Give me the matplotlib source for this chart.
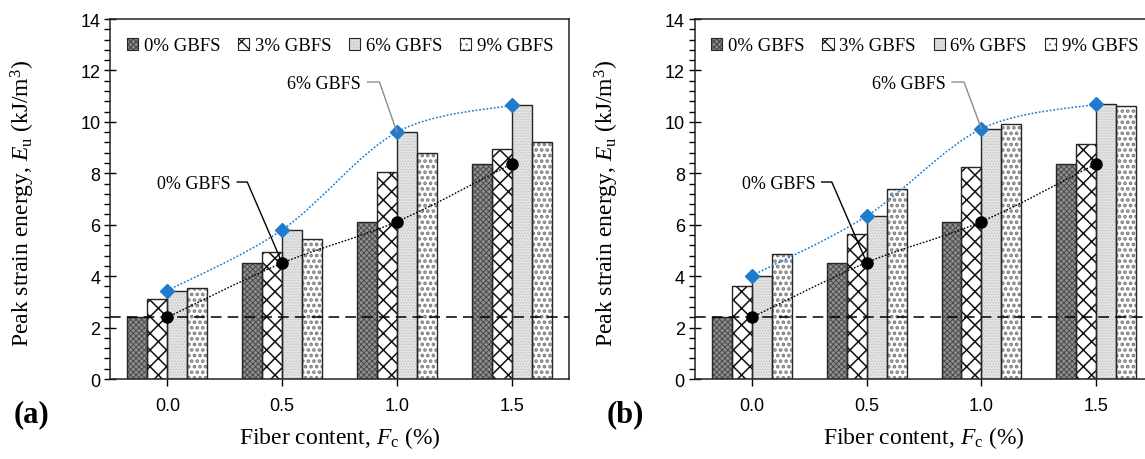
import numpy as np
import matplotlib
matplotlib.use('Agg')
import matplotlib.pyplot as plt
from matplotlib.patches import Patch, PathPatch
from matplotlib.path import Path
from matplotlib.legend_handler import HandlerTuple
from matplotlib.ticker import MultipleLocator

plt.rcParams['font.family'] = ['Liberation Serif', 'DejaVu Serif']
plt.rcParams['mathtext.fontset'] = 'custom'
plt.rcParams['mathtext.rm'] = 'Liberation Serif'
plt.rcParams['mathtext.it'] = 'Liberation Serif:italic'
plt.rcParams['hatch.linewidth'] = 0.9

# fiber content (%) and GBFS replacement levels
fiber = [0.0, 0.5, 1.0, 1.5]
gbfs = ['0% GBFS', '3% GBFS', '6% GBFS', '9% GBFS']

# peak strain energy E_u (kJ/m3), panel (a)
eu_a_0 = [2.40, 4.51, 6.12, 8.37]
eu_a_3 = [3.11, 4.93, 8.04, 8.93]
eu_a_6 = [3.44, 5.80, 9.60, 10.65]
eu_a_9 = [3.53, 5.45, 8.79, 9.21]

# peak strain energy E_u (kJ/m3), panel (b)
eu_b_0 = [2.40, 4.53, 6.12, 8.37]
eu_b_3 = [3.63, 5.64, 8.23, 9.14]
eu_b_6 = [4.02, 6.34, 9.73, 10.69]
eu_b_9 = [4.88, 7.39, 9.91, 10.60]

ref_level = 2.4   # plain soil reference

# fill, hatch, hatch colour, hatch width per GBFS level
styles = [
    ('#8f8f8f', 'xxxxxx', '#4a4a4a', 0.7),
    ('white', 'xx', '#111111', 1.1),
    ('#e4e4e4', '......', '#c4c4c4', 0.7),
    ('white', '...', '#7c7c7c', 1.8),
]
edge = '#262626'
blue = '#1f7ccc'
bw = 0.087


def smooth_path(xs, ys):
    # Catmull-Rom segments as cubic Bezier curves
    p = np.column_stack([xs, ys]).astype(float)
    ext = np.vstack([p[0], p, p[-1]])
    verts = [p[0]]
    codes = [Path.MOVETO]
    for i in range(1, len(ext) - 2):
        c1 = ext[i] + (ext[i + 1] - ext[i - 1]) / 6.0
        c2 = ext[i + 1] - (ext[i + 2] - ext[i]) / 6.0
        verts += [c1, c2, ext[i + 1]]
        codes += [Path.CURVE4] * 3
    return Path(verts, codes)


def hatch_width(patches, w):
    for p in patches:
        if hasattr(p, 'set_hatch_linewidth'):
            p.set_hatch_linewidth(w)


def draw_panel(ax, series):
    x = np.array(fiber)
    for k, (vals, (fc, hatch, hc, hw)) in enumerate(zip(series, styles)):
        pos = x + (k - 1.5) * bw
        bars = ax.bar(pos, vals, bw, color=fc, edgecolor=hc, hatch=hatch, lw=0, zorder=2)
        hatch_width(bars, hw)
        ax.bar(pos, vals, bw, fill=False, edgecolor=edge, lw=1.0, zorder=3)

    ax.axhline(ref_level, color='black', lw=1.1, ls=(0, (7, 4)), zorder=4)

    v0, v6 = series[0], series[2]
    ax.add_patch(PathPatch(smooth_path(x, v0), fill=False, ec='black', lw=1.0,
                           ls=(0, (1.2, 1.2)), zorder=5))
    ax.add_patch(PathPatch(smooth_path(x, v6), fill=False, ec=blue, lw=1.1,
                           ls=(0, (1.2, 1.2)), zorder=5))
    ax.plot(x, v0, 'o', color='black', ms=8, zorder=6)
    ax.plot(x, v6, 'D', color=blue, ms=7, zorder=6)

    # callouts
    ax.text(0.683, 11.5, '6% GBFS', fontsize=13, ha='center', va='center')
    ax.plot([0.872, 0.924, x[2]], [11.55, 11.55, v6[2]], color='#8c8c8c', lw=1.0, zorder=7)
    ax.text(0.115, 7.6, '0% GBFS', fontsize=13, ha='center', va='center')
    ax.plot([0.304, 0.348, x[1]], [7.66, 7.66, v0[1]], color='black', lw=1.0, zorder=7)

    ax.set_xlim(-0.25, 1.75)
    ax.set_ylim(0, 14)
    ax.set_xticks(x)
    ax.set_xticklabels(['%.1f' % f for f in fiber], family='Liberation Sans', fontsize=13)
    ax.yaxis.set_major_locator(MultipleLocator(2))
    ax.yaxis.set_minor_locator(MultipleLocator(0.4))
    for t in ax.get_yticklabels():
        t.set_family('Liberation Sans')
        t.set_fontsize(13)
    ax.tick_params(axis='y', which='major', direction='inout', length=8, width=1, pad=3)
    ax.tick_params(axis='y', which='minor', direction='out', length=4, width=1)
    ax.tick_params(axis='x', direction='out', length=5, width=1, pad=8)
    for s in ax.spines.values():
        s.set_linewidth(1.1)
        s.set_color('#222222')

    ax.set_xlabel('Fiber content, $F_\\mathrm{c}$ (%)', fontsize=17)
    ax.xaxis.set_label_coords(0.5, -0.125)
    ax.set_ylabel('Peak strain energy, $E_\\mathrm{u}$ (kJ/m$^3$)', fontsize=17)
    ax.yaxis.set_label_coords(-0.16, 0.49)

    handles = []
    for fc, hatch, hc, hw in styles:
        hp = Patch(facecolor=fc, edgecolor=hc, hatch=hatch, lw=0)
        hatch_width([hp], hw)
        handles.append((hp, Patch(fill=False, edgecolor=edge, lw=0.8)))
    ax.legend(handles, gbfs, handler_map={tuple: HandlerTuple(ndivide=1)},
              ncol=4, loc='upper left', bbox_to_anchor=(0.02, 0.97), frameon=False,
              fontsize=13.5, handlelength=0.6, handleheight=0.6, handletextpad=0.3,
              columnspacing=0.95, borderaxespad=0)


fig = plt.figure(figsize=(11.45, 4.6), dpi=100)
ax1 = fig.add_axes([0.0961, 0.1739, 0.4009, 0.7826])
ax2 = fig.add_axes([0.6066, 0.1739, 0.4009, 0.7826])

draw_panel(ax1, [eu_a_0, eu_a_3, eu_a_6, eu_a_9])
draw_panel(ax2, [eu_b_0, eu_b_3, eu_b_6, eu_b_9])

fig.text(0.012, 0.098, '(a)', fontsize=22, fontweight='bold', va='center')
fig.text(0.530, 0.098, '(b)', fontsize=22, fontweight='bold', va='center')

fig.savefig('out.png', dpi=100)
